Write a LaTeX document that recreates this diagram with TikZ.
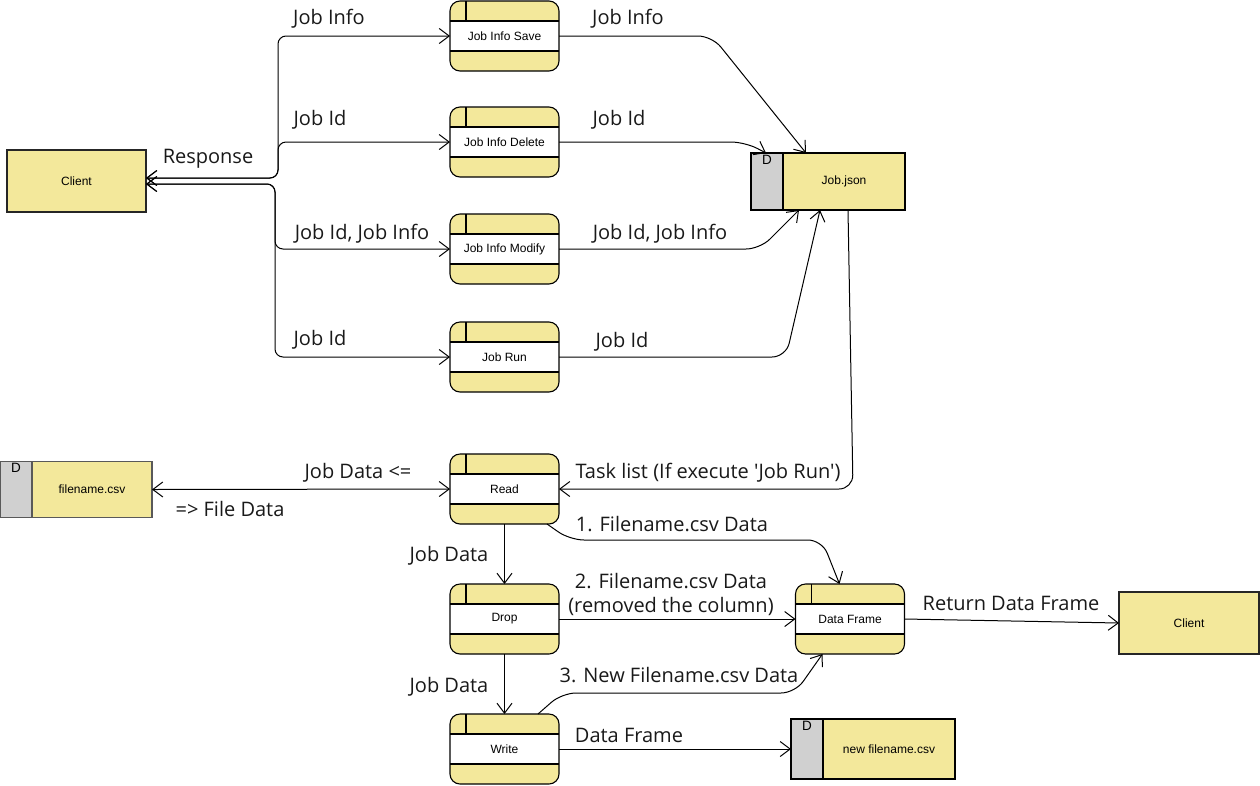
\documentclass[tikz,border=0pt]{standalone}
\usepackage{fontspec}
\setmainfont{Open Sans}
\newfontfamily\lblfont{Open Sans}
\newfontfamily\nodefont{Liberation Sans}
\usetikzlibrary{arrows.meta}
\definecolor{vpyellow}{HTML}{F3E89B}
\definecolor{vpgray}{HTML}{D0D0D0}
\tikzset{
  procbox/.style={fill=vpyellow, rounded corners=10pt,
    minimum width=109pt, minimum height=70pt, inner sep=0pt, outer sep=0pt},
  proctext/.style={font=\nodefont\fontsize{12}{14}\selectfont, inner sep=0pt},
  shapeline/.style={line width=1.1pt},
  storebox/.style={draw, line width=1.1pt, fill=vpyellow, inner sep=0pt, outer sep=0pt},
  dletter/.style={anchor=north, inner sep=0pt, font=\nodefont\fontsize{13.5}{15}\selectfont},
  entity/.style={draw=black!85, line width=1.1pt, fill=vpyellow, inner sep=0pt, outer sep=0pt,
    minimum width=139pt, minimum height=62pt, font=\nodefont\fontsize{12}{14}\selectfont},
  barb/.tip={Straight Barb[length=10pt,width=15pt,line width=1pt]},
  flow/.style={line width=1pt, -barb},
  biflow/.style={line width=1pt, barb-barb},
  lbl/.style={font=\lblfont\fontsize{20}{24}\selectfont, inner sep=0pt, text=black!90, align=center},
}
\newcommand\procnode[4]{%
  \node[procbox] (#1) at (#2,#3) {};
  \fill[white] ([yshift=15pt]#1.west) rectangle ([yshift=-15pt]#1.east);
  \draw[shapeline] ([yshift=15pt]#1.west) -- ([yshift=15pt]#1.east);
  \draw[shapeline] ([yshift=-15pt]#1.west) -- ([yshift=-15pt]#1.east);
  \draw[shapeline] ([xshift=16pt]#1.north west) -- ([xshift=16pt,yshift=15pt]#1.west);
  \draw[shapeline, rounded corners=10pt] (#1.north west) rectangle (#1.south east);
  \node[proctext] at (#1.center) {#4};
}
\newcommand\storenode[7]{%
  \node[storebox, draw=#7, minimum width=#4, minimum height=#5] (#1) at (#2,#3) {};
  \fill[vpgray] (#1.north west) rectangle ([xshift=32pt]#1.south west);
  \draw[shapeline, draw=#7] ([xshift=32pt]#1.north west) -- ([xshift=32pt]#1.south west);
  \draw[shapeline, draw=#7] (#1.north west) rectangle (#1.south east);
  \node[dletter] at ([xshift=16pt,yshift=-2pt]#1.north west) {D};
  \node[proctext] at ([xshift=16pt]#1.center) {#6};
}
\begin{document}
\begin{tikzpicture}[x=1pt, y=-1pt]
\useasboundingbox (0,0) rectangle (1260,785);

% processes
\procnode{save}{504.5}{36}{Job Info Save}
\procnode{del}{504.5}{142}{Job Info Delete}
\procnode{mod}{504.5}{249}{Job Info Modify}
\procnode{run}{504.5}{357}{Job Run}
\procnode{read}{504.5}{489}{Read}
\procnode{drop}{504.5}{619}{Drop}
\procnode{write}{504.5}{749}{Write}
\procnode{df}{850}{619}{Data Frame}

% external entities
\node[entity] (cl1) at (76.5,181) {Client};
\node[entity, minimum width=140pt] (cl2) at (1189,623) {Client};

% data stores
\storenode{json}{828}{181.5}{154pt}{57pt}{Job.json}{black}
\storenode{fcsv}{76}{489.5}{152pt}{56pt}{filename.csv}{black!65}
\storenode{ncsv}{873}{749}{164pt}{60pt}{new filename.csv}{black}

% client to processes
\begin{scope}[rounded corners=8pt]
\draw[biflow] ([yshift=3pt]cl1.east) -- (278,178) -- (278,36) -- (save.west);
\draw[biflow] ([yshift=3pt]cl1.east) -- (278,178) -- (278,142) -- (del.west);
\draw[biflow] ([yshift=-3pt]cl1.east) -- (275,184) -- (275,249) -- (mod.west);
\draw[biflow] ([yshift=-3pt]cl1.east) -- (275,184) -- (275,357) -- (run.west);
\end{scope}

% processes to Job.json
\begin{scope}[rounded corners=14pt]
\draw[flow] (save.east) -- (712,36) -- ([xshift=55pt]json.north west);
\draw[flow] (del.east) -- (745,142) -- ([xshift=15pt]json.north west);
\draw[flow] (mod.east) -- (760,249) -- ([xshift=48pt]json.south west);
\draw[flow] (run.east) -- (786,357) -- ([xshift=69pt]json.south west);
\draw[flow] ([xshift=97pt]json.south west) -- (853,489) -- (read.east);
\end{scope}

% lower part
\draw[biflow] (fcsv.east) -- (read.west);
\draw[flow] (read.south) -- (drop.north);
\draw[flow, rounded corners=14pt] ([xshift=-12pt]read.south east) -- (570,540) -- (822,540) -- ([xshift=44pt]df.north west);
\draw[flow] (drop.east) -- (df.west);
\draw[flow] (drop.south) -- (write.north);
\draw[flow, rounded corners=14pt] ([xshift=-21pt]write.north east) -- (562,693) -- (795,693) -- ([xshift=27pt]df.south west);
\draw[flow] (write.east) -- (ncsv.west);
\draw[flow] (df.east) -- (cl2.west);

% labels
\node[lbl] (l1) at (329,19) {Job Info};
\node[lbl] (l2) at (628,19) {Job Info};
\node[lbl] (l3) at (320,120) {Job Id};
\node[lbl] (l4) at (619,120) {Job Id};
\node[lbl] (l5) at (208,159) {Response};
\node[lbl] (l6) at (362,234) {Job Id, Job Info};
\node[lbl] (l7) at (660,234) {Job Id, Job Info};
\node[lbl] (l8) at (320,340) {Job Id};
\node[lbl] (l9) at (622,342) {Job Id};
\node[lbl] (l10) at (358,473) {Job Data <=};
\node[lbl] (l11) at (230,509) {=> File Data};
\node[lbl] (l12) at (708,473) {Task list (If execute 'Job Run')};
\node[lbl] (l13) at (672,524) {1. Filename.csv Data};
\node[lbl] (l14) at (449,556) {Job Data};
\node[lbl] (l15) at (671,594) {2. Filename.csv Data\\(removed the column)};
\node[lbl] (l16) at (1011,603) {Return Data Frame};
\node[lbl] (l17) at (449,687) {Job Data};
\node[lbl] (l18) at (679,675) {3. New Filename.csv Data};
\node[lbl] (l19) at (629,735) {Data Frame};
\end{tikzpicture}
\end{document}
